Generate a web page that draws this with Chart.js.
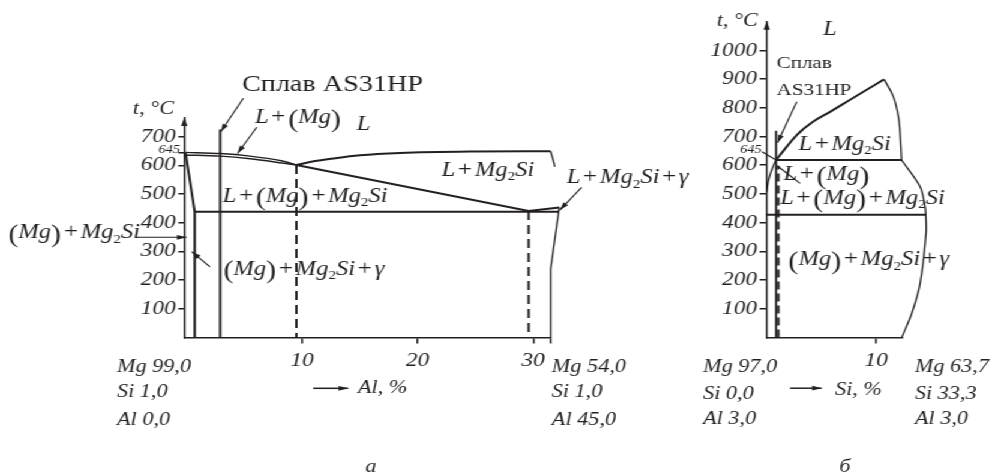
<!DOCTYPE html>
<html>
<head>
<meta charset="utf-8">
<script src="https://cdn.jsdelivr.net/npm/chart.js@4.4.1/dist/chart.umd.min.js"></script>
<style>
  html, body { margin: 0; padding: 0; background: #fff; overflow: hidden; }
  /* the printed figure is slightly wider than tall, so the drawing sheet is stretched */
  #sheet { position: relative; width: 829px; height: 476px; transform: scaleX(1.2002); transform-origin: 0 0; }
  #sheet canvas { position: absolute; left: 0; top: 0; }
</style>
</head>
<body>
<div id="sheet">
  <canvas id="diagramA" width="829" height="476"></canvas>
  <canvas id="diagramB" width="829" height="476"></canvas>
</div>
<script>
'use strict';

// --- а: Mg-Al section at 1 % Si (x = Al, %, y = t, °C)
const alTicks = [10, 20, 30, 31.5];
const tempTicksA = [100, 200, 300, 400, 500, 600, 645, 700];
const liquidusMg = [[-0.1, 645], [2.9, 641], [5.5, 632], [8.3, 615], [9.5, 601]];
const solidusMg = [[-0.1, 636], [2.9, 632], [5.5, 623], [8.3, 608], [9.5, 601]];
const liquidusMg2SiA = [[9.5, 601], [11, 614], [12.7, 624], [15, 635], [18.5, 643], [25, 648], [31.5, 649]];
const valleyA = [[9.5, 601], [29.6, 441], [32.25, 453]];
const solvusA = [[-0.1, 645], [0.7, 438], [0.7, 0]];
const eutecticA = [[0.7, 438], [32.25, 438]];
const rightEdgeTopA = [[31.5, 649], [31.87, 595], [32.16, 525], [32.25, 453]];
const rightEdgeLowA = [[32.25, 453], [31.5, 237], [31.5, 0]];
const alloyA = [[2.9, 0], [2.9, 725]];
const cutsA = [[[9.5, 601], [9.5, 0]], [[29.6, 441], [29.6, 0]]];

// --- б: Mg-Si section at 3 % Al (x = Si, %, y = t, °C)
const siTicks = [10];
const tempTicksB = [100, 200, 300, 400, 500, 600, 700, 800, 900, 1000];
const liquidusB = [[0.85, 618], [1.52, 650], [2.74, 705], [4.26, 752], [5.79, 786], [7.32, 821], [8.84, 856], [10.73, 899]];
const apexDropB = [[10.73, 899], [11.58, 839], [12.04, 769], [12.2, 711], [12.33, 618]];
const threePhaseB = [[0.85, 618], [12.33, 618]];
const rightEdgeB = [[12.33, 618], [14.03, 525], [14.48, 455], [14.55, 427], [14.57, 363], [14.03, 188], [13.27, 84], [12.35, 0]];
const eutecticB = [[0, 427], [14.55, 427]];
const solvusB = [[0, 508], [0.15, 545], [0.4, 578], [0.65, 602], [0.85, 618]];
const alloyB = [[0.85, 0], [0.85, 720]];
const cutB = [[1.05, 0], [1.05, 598]];

// labels and leader lines, placed in diagram units
const notesA = [
  {text: 't, °C', at: [-4.64, 779], style: 'axis'},
  {text: 'Сплав AS31HP', at: [4.79, 859], style: 'roman', size: 23.5},
  {text: 'L + (Mg)', at: [5.92, 746], style: 'formula'},
  {text: 'L', at: [14.72, 723], style: 'formula'},
  {text: 'L + Mg_2Si', at: [22.07, 563], style: 'formula'},
  {text: 'L + (Mg) + Mg_2Si', at: [3.12, 473], style: 'formula'},
  {text: 'L + Mg_2Si + γ', at: [32.89, 537], style: 'formula'},
  {text: '(Mg) + Mg_2Si', at: [-15.43, 345], style: 'formula'},
  {text: '(Mg) + Mg_2Si + γ', at: [3.18, 218], style: 'formula'},
  {text: '645', at: [-2.45, 642], style: 'small'},
  {text: 'Mg 99,0', at: [-6.02, -120], style: 'axis'},
  {text: 'Si 1,0', at: [-6.02, -207], style: 'axis'},
  {text: 'Al 0,0', at: [-6.02, -305], style: 'axis'},
  {text: 'Mg 54,0', at: [31.61, -120], style: 'axis'},
  {text: 'Si 1,0', at: [31.61, -207], style: 'axis'},
  {text: 'Al 45,0', at: [31.61, -305], style: 'axis'},
  {text: 'Al, %', at: [14.83, -194], style: 'axis'},
  {text: 'а', at: [15.96, -468], style: 'axis', align: 'center'},
];
const arrowsA = [
  {from: [4.91, 834], to: [2.95, 717], head: true},
  {from: [6.07, 733], to: [4.4, 641], head: true},
  {from: [34.18, 523], to: [32.3, 444], head: true},
  {from: [-4.32, 349], to: [0.0, 349], head: true},
  {from: [2.02, 246], to: [0.44, 299], head: true},
  {from: [10.96, -177.5], to: [13.99, -177.5], head: true, width: 1.5},
];

const notesB = [
  {text: 't, °C', at: [-4.57, 1085], style: 'axis'},
  {text: 'L', at: [5.15, 1054], style: 'formula'},
  {text: 'Сплав', at: [0.91, 938], style: 'roman', size: 17.5},
  {text: 'AS31HP', at: [0.91, 845], style: 'roman', size: 17.5},
  {text: 'L + Mg_2Si', at: [2.89, 653], style: 'formula'},
  {text: '645', at: [-2.44, 641], style: 'small'},
  {text: 'L + (Mg)', at: [1.52, 548], style: 'formula'},
  {text: 'L + (Mg) + Mg_2Si', at: [1.22, 465], style: 'formula'},
  {text: '(Mg) + Mg_2Si + γ', at: [1.98, 251], style: 'formula'},
  {text: 'Mg 97,0', at: [-5.82, -120], style: 'axis'},
  {text: 'Si 0,0', at: [-5.82, -213], style: 'axis'},
  {text: 'Al 3,0', at: [-5.82, -302], style: 'axis'},
  {text: 'Mg 63,7', at: [13.56, -120], style: 'axis'},
  {text: 'Si 33,3', at: [13.56, -213], style: 'axis'},
  {text: 'Al 3,0', at: [13.56, -302], style: 'axis'},
  {text: 'Si, %', at: [6.25, -201], style: 'axis'},
  {text: 'б', at: [7.16, -468], style: 'axis', align: 'center'},
];
const arrowsB = [
  {from: [2.74, 821], to: [0.98, 678], head: true},
  {from: [-0.43, 647], to: [0.85, 618]},
  {from: [3.05, 537], to: [0.95, 598]},
  {from: [2.13, -177], to: [5.03, -177], head: true, width: 1.5},
];

const ink = '#231f20';
const serif = '"Liberation Serif", "Times New Roman", serif';

function line(points, extra = {}) {
  return Object.assign({
    data: points.map(p => ({x: p[0], y: p[1]})),
    showLine: true,
    borderColor: ink,
    borderWidth: 2,
    pointRadius: 0,
    tension: 0,
    clip: false,
  }, extra);
}

// splits "L + (Mg) + Mg_2Si" into runs: italic letters, upright signs, tall brackets, subscripts
function formulaRuns(text) {
  const runs = [];
  for (let i = 0; i < text.length; i++) {
    const ch = text[i];
    if (ch === ' ') continue;
    if (ch === '_') {
      runs.push({s: text[++i], font: `12.5px ${serif}`, dy: 4.5});
    } else if (ch === '(' || ch === ')') {
      runs.push({s: ch, font: `25px ${serif}`, dy: 3.5});
    } else if (ch === '+') {
      runs.push({s: '+', font: `21px ${serif}`, dy: 0, gap: 2.2});
    } else {
      runs.push({s: ch, font: `italic 20.5px ${serif}`, dy: 0});
    }
  }
  return runs;
}

function runsFor(note) {
  if (note.style === 'formula') return formulaRuns(note.text);
  const fonts = {
    axis: `italic 18.5px ${serif}`,
    roman: `${note.size || 21}px ${serif}`,
    small: `italic 12px ${serif}`,
  };
  return [{s: note.text, font: fonts[note.style], dy: 0}];
}

function runWidth(ctx, r) {
  ctx.font = r.font;
  return ctx.measureText(r.s).width + 2 * (r.gap || 0);
}

function drawRuns(ctx, runs, x, y, align) {
  const width = runs.reduce((w, r) => w + runWidth(ctx, r), 0);
  let cx = align === 'center' ? x - width / 2 : x;
  for (const r of runs) {
    const w = runWidth(ctx, r);
    ctx.fillText(r.s, cx + (r.gap || 0), y + r.dy);
    cx += w;
  }
}

function arrowHead(ctx, x0, y0, x1, y1, len, half) {
  const a = Math.atan2(y1 - y0, x1 - x0);
  ctx.beginPath();
  ctx.moveTo(x1, y1);
  ctx.lineTo(x1 - len * Math.cos(a) + half * Math.sin(a), y1 - len * Math.sin(a) - half * Math.cos(a));
  ctx.lineTo(x1 - len * Math.cos(a) - half * Math.sin(a), y1 - len * Math.sin(a) + half * Math.cos(a));
  ctx.closePath();
  ctx.fill();
}

function notesPlugin(notes, arrows) {
  return {
    id: 'notes',
    afterDraw(chart) {
      const {ctx, chartArea, scales: {x, y}} = chart;
      const px = p => [x.getPixelForValue(p[0]), y.getPixelForValue(p[1])];
      ctx.save();
      ctx.fillStyle = ink;
      ctx.strokeStyle = ink;

      // arrow on top of the temperature axis
      arrowHead(ctx, chartArea.left, chartArea.top + 20, chartArea.left, chartArea.top - 1, 9, 2.6);

      for (const a of arrows) {
        const [x0, y0] = px(a.from);
        const [x1, y1] = px(a.to);
        ctx.lineWidth = a.width || 1.1;
        ctx.beginPath();
        ctx.moveTo(x0, y0);
        ctx.lineTo(x1, y1);
        ctx.stroke();
        if (a.head) arrowHead(ctx, x0, y0, x1, y1, 8, 2.4);
      }

      ctx.textBaseline = 'alphabetic';
      ctx.textAlign = 'left';
      for (const n of notes) {
        const [nx, ny] = px(n.at);
        drawRuns(ctx, runsFor(n), nx, ny, n.align);
      }
      ctx.restore();
    }
  };
}

function makeDiagram(canvasId, cfg) {
  const tickFont = {family: serif, size: 19.5, style: 'italic'};
  return new Chart(document.getElementById(canvasId), {
    type: 'scatter',
    data: {datasets: cfg.datasets},
    options: {
      responsive: false,
      animation: false,
      events: [],
      layout: {padding: cfg.padding},
      plugins: {legend: {display: false}, tooltip: {enabled: false}},
      scales: {
        x: {
          type: 'linear',
          min: cfg.xRange[0],
          max: cfg.xRange[1],
          afterFit: s => { s.height = 30; },
          afterBuildTicks: s => { s.ticks = cfg.xTicks.map(v => ({value: v})); },
          grid: {drawOnChartArea: false, tickLength: 6, color: ink, lineWidth: 1.5},
          border: {color: ink, width: 1.5},
          ticks: {
            autoSkip: false, maxRotation: 0, padding: 6, color: ink, font: tickFont,
            callback: v => (Number.isInteger(v) ? String(v) : ''),
          },
        },
        y: {
          type: 'linear',
          min: 0,
          max: cfg.yMax,
          afterFit: s => { s.width = cfg.yAxisWidth; },
          afterBuildTicks: s => { s.ticks = cfg.yTicks.map(v => ({value: v})); },
          grid: {drawOnChartArea: false, tickLength: cfg.yTickLength, color: ink, lineWidth: 1.5},
          border: {color: ink, width: 1.5},
          ticks: {
            autoSkip: false, padding: 2, color: ink, font: tickFont,
            // 645 is written small beside its tick by the notes plugin
            callback: v => (v === 645 ? '' : String(v)),
          },
        },
      },
    },
    plugins: [notesPlugin(cfg.notes, cfg.arrows)],
  });
}

const thin = {borderWidth: 1.3};
const dashed = {borderWidth: 2, borderDash: [9, 5]};

makeDiagram('diagramA', {
  padding: {left: 0, top: 118, right: 370.2, bottom: 108.6},
  xRange: [-0.2, 31.5],
  yMax: 765,
  xTicks: alTicks,
  yTicks: tempTicksA,
  yAxisWidth: 153.6,
  yTickLength: 5,
  notes: notesA,
  arrows: arrowsA,
  datasets: [
    line(liquidusMg, {borderWidth: 1.4, tension: 0.3}),
    line(solidusMg, {borderWidth: 1.4, tension: 0.3}),
    line(liquidusMg2SiA, {cubicInterpolationMode: 'monotone'}),
    line(valleyA),
    line(solvusA),
    line(eutecticA),
    line(rightEdgeTopA, Object.assign({tension: 0.4}, thin)),
    line(rightEdgeLowA, thin),
    line(alloyA),
    ...cutsA.map(c => line(c, dashed)),
  ],
});

makeDiagram('diagramB', {
  padding: {left: 538.8, top: 21.7, right: 77.7, bottom: 108.6},
  xRange: [0, 12.35],
  yMax: 1100,
  xTicks: siTicks,
  yTicks: tempTicksB,
  yAxisWidth: 100,
  yTickLength: 6,
  notes: notesB,
  arrows: arrowsB,
  datasets: [
    line(liquidusB, {cubicInterpolationMode: 'monotone'}),
    line(apexDropB, Object.assign({tension: 0.4}, thin)),
    line(threePhaseB),
    line(rightEdgeB, Object.assign({tension: 0.3}, thin)),
    line(eutecticB),
    line(solvusB, Object.assign({tension: 0.4}, thin)),
    line(alloyB, {borderWidth: 1.7}),
    line(cutB, {borderWidth: 2.2, borderDash: [8, 4]}),
  ],
});
</script>
</body>
</html>
